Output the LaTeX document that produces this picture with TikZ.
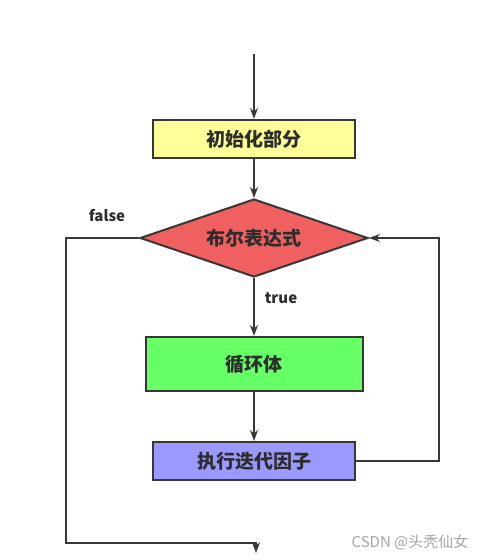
\documentclass[tikz,border=0pt]{standalone}
\usepackage{fontspec}
\usepackage{tikz}
\usetikzlibrary{shapes.geometric, arrows.meta, positioning}
\newfontfamily\cjk{Noto Sans CJK SC}
\definecolor{linegray}{RGB}{55,55,55}
\definecolor{textgray}{RGB}{45,45,45}
\definecolor{inityellow}{RGB}{255,255,153}
\definecolor{condred}{RGB}{240,96,96}
\definecolor{bodygreen}{RGB}{102,255,102}
\definecolor{itervio}{RGB}{153,153,255}

\begin{document}
\begin{tikzpicture}[
    x=1pt, y=-1pt,
    node distance=39pt,
    box/.style={draw=linegray, line width=2pt, minimum width=202pt, minimum height=38pt, font=\cjk\bfseries\fontsize{19}{21}\selectfont, text=textgray, align=center},
    initbox/.style={box, fill=inityellow},
    condbox/.style={box, shape=diamond, fill=condred, minimum width=228pt, minimum height=78pt, aspect=2.92, inner sep=0pt},
    bodybox/.style={box, fill=bodygreen, minimum width=217pt, minimum height=54pt},
    iterbox/.style={box, fill=itervio},
    arrow/.style={-{Stealth[length=11pt, width=8pt]}, line width=2pt, linegray},
    label/.style={font=\cjk\bfseries\fontsize{15}{17}\selectfont, text=textgray},
  ]
  \useasboundingbox[fill=white] (0,0) rectangle (493,560);
  \node[initbox] (init) at (254,139) {初始化部分};
  \node[condbox, below=39pt of init] (cond) {布尔表达式};
  \node[bodybox, below=58pt of cond] (body) {循环体};
  \node[iterbox, below=49pt of body] (iter) {执行迭代因子};
  \coordinate[above=65pt of init.north] (start);
  \coordinate (lft) at (66,543);
  \coordinate (stop) at (256,553);
  \node[label] (falselbl) at (107,216) {false};
  \node[label] (truelbl) at (281,298) {true};
  \draw[arrow] (start) -- (init);
  \draw[arrow] (init) -- (cond);
  \draw[arrow] (cond) -- (body);
  \draw[arrow] (body) -- (iter);
  \draw[arrow] (iter.east) -- ++(83,0) |- (cond.east);
  \draw[arrow] (cond.west) -| (lft) -| (stop);
  \node[font=\cjk\fontsize{15}{17}\selectfont, text=black!35] (mark) at (410,542) {CSDN @头秃仙女};
\end{tikzpicture}
\end{document}
